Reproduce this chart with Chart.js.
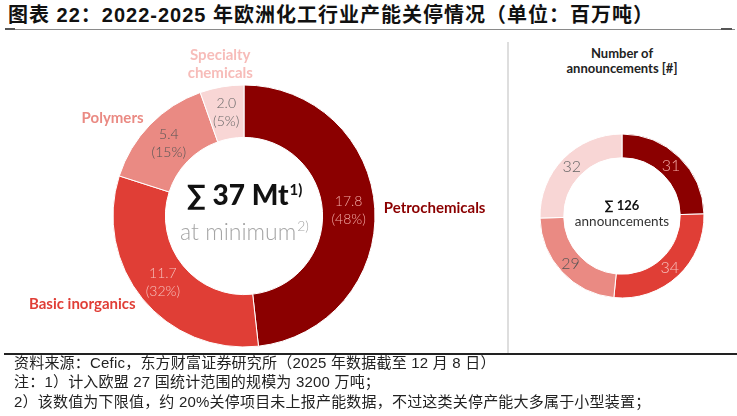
<!DOCTYPE html>
<html lang="zh">
<head>
<meta charset="UTF-8">
<title>2022-2025 年欧洲化工行业产能关停情况</title>
<script src="https://cdn.jsdelivr.net/npm/chart.js"></script>
<style>
  body { margin: 0; background: #fff; }
  .page { position: relative; width: 737px; height: 416px; overflow: hidden; font-family: "Liberation Sans", "Noto Sans CJK SC", sans-serif; color: #111; }
  .title { position: absolute; left: 8px; top: 3px; font-size: 20px; font-weight: bold; white-space: nowrap; line-height: 24px; letter-spacing: 1px; }
  .rule-top { position: absolute; left: 5px; width: 730px; top: 29px; height: 1px; background: #8a8a8a; }
  .rule-top-end { position: absolute; top: 28px; height: 2px; background: #555; }
  .divider { position: absolute; left: 507px; top: 42px; width: 2px; height: 312px; background: #dedede; }
  .rule-bottom { position: absolute; left: 4px; width: 733px; top: 353px; height: 2px; background: #222; }
  .note { position: absolute; left: 14px; font-size: 15px; white-space: nowrap; line-height: 19px; color: #222; letter-spacing: 0.2px; }
  .sub-title { position: absolute; left: 522px; width: 200px; top: 46px; text-align: center; font-family: Lato, sans-serif; font-weight: bold; font-size: 13px; line-height: 15px; color: #222; }
  canvas { position: absolute; }
</style>
</head>
<body>
<div class="page">
  <div class="title">图表 22：2022-2025 年欧洲化工行业产能关停情况（单位：百万吨）</div>
  <div class="rule-top"></div>
  <div class="rule-top-end" style="left:5px;width:10px"></div>
  <div class="rule-top-end" style="left:721px;width:11px"></div>

  <canvas id="capacityChart" width="488" height="352" style="left:0;top:40px"></canvas>
  <div class="divider"></div>
  <div class="sub-title">Number of<br>announcements [#]</div>
  <canvas id="countChart" width="220" height="352" style="left:512px;top:40px"></canvas>

  <div class="rule-bottom"></div>
  <div class="note" style="top:353px">资料来源：Cefic，东方财富证券研究所（2025 年数据截至 12 月 8 日）</div>
  <div class="note" style="top:372px">注：1）计入欧盟 27 国统计范围的规模为 3200 万吨；</div>
  <div class="note" style="top:392px">2）该数值为下限值，约 20%关停项目未上报产能数据，不过这类关停产能大多属于小型装置；</div>
</div>

<script>
// data
const categories = ['Petrochemicals', 'Basic inorganics', 'Polymers', 'Specialty chemicals'];
const categoryLines = [['Petrochemicals'], ['Basic inorganics'], ['Polymers'], ['Specialty', 'chemicals']];
const capacityMt = [17.8, 11.7, 5.4, 2.0];
const capacityShare = [48, 32, 15, 5];
const capacityTotal = 37;
const announcements = [31, 34, 29, 32];
const announcementTotal = 126;

// styles
const sliceColors = ['#8b0000', '#e03e36', '#ea8a83', '#f8d6d5'];
const labelColors = ['#8b0000', '#e03e36', '#ea8a83', '#f7bcb9'];
const valueColors = ['#f2a8a3', '#f6c2be', '#555555', '#666666'];

// draws the value texts, outside labels and centre text of a doughnut
const donutText = {
    id: 'donutText',
    afterDatasetsDraw(chart, args, opts) {
        const ctx = chart.ctx;
        const arcs = chart.getDatasetMeta(0).data;
        ctx.save();
        arcs.forEach((arc, i) => {
            const p = arc.getProps(['x', 'y', 'startAngle', 'endAngle', 'outerRadius'], true);
            const mid = (p.startAngle + p.endAngle) / 2;
            const pos = arc.tooltipPosition(true);

            const lines = opts.valueLines(i);
            ctx.font = opts.valueFont;
            ctx.fillStyle = opts.valueColors[i];
            ctx.textAlign = 'center';
            ctx.textBaseline = 'middle';
            lines.forEach((t, k) => {
                ctx.fillText(t, pos.x, pos.y + (k - (lines.length - 1) / 2) * opts.valueLineHeight);
            });

            if (opts.labels) {
                const r = p.outerRadius + opts.labelGap;
                const ax = p.x + Math.cos(mid) * r;
                const ay = p.y + Math.sin(mid) * r;
                const lab = opts.labels[i];
                const c = Math.cos(mid);
                ctx.font = opts.labelFont;
                ctx.fillStyle = opts.labelColors[i];
                if (Math.abs(c) > 0.5) {
                    ctx.textAlign = c > 0 ? 'left' : 'right';
                    ctx.textBaseline = 'middle';
                    lab.forEach((t, k) => ctx.fillText(t, ax, ay + (k - (lab.length - 1) / 2) * opts.labelLineHeight));
                } else {
                    ctx.textAlign = 'center';
                    ctx.textBaseline = 'alphabetic';
                    lab.forEach((t, k) => ctx.fillText(t, ax, ay - (lab.length - 1 - k) * opts.labelLineHeight));
                }
            }
        });
        if (opts.center) opts.center(ctx, arcs[0].x, arcs[0].y);
        ctx.restore();
    }
};

// text with a small raised part, centred on x
function supText(ctx, x, y, main, sup, mainFont, supFont, color, rise) {
    ctx.font = mainFont;
    const w1 = ctx.measureText(main).width;
    ctx.font = supFont;
    const w2 = ctx.measureText(sup).width;
    const start = x - (w1 + w2) / 2;
    ctx.fillStyle = color;
    ctx.textAlign = 'left';
    ctx.textBaseline = 'alphabetic';
    ctx.font = mainFont;
    ctx.fillText(main, start, y);
    ctx.font = supFont;
    ctx.fillText(sup, start + w1 + 1, y - rise);
}

new Chart(document.getElementById('capacityChart'), {
    type: 'doughnut',
    data: {
        labels: categories,
        datasets: [{
            data: capacityMt,
            backgroundColor: sliceColors,
            borderColor: '#ffffff',
            borderWidth: 1
        }]
    },
    options: {
        responsive: false,
        animation: false,
        radius: 131,
        cutout: '60%',
        events: [],
        plugins: {
            legend: { display: false },
            tooltip: { enabled: false },
            donutText: {
                valueLines: i => [capacityMt[i].toFixed(1), '(' + capacityShare[i] + '%)'],
                valueFont: '300 14px Lato',
                valueLineHeight: 18,
                valueColors: valueColors,
                labels: categoryLines,
                labelFont: 'bold 15px Lato',
                labelLineHeight: 18,
                labelColors: labelColors,
                labelGap: 9,
                center(ctx, x, y) {
                    supText(ctx, x, y - 11, '∑ ' + capacityTotal + ' Mt', '1)', '900 28px Lato', 'bold 15px Lato', '#111111', 10);
                    supText(ctx, x, y + 24, 'at minimum', '2)', '300 23px Lato', '300 14px Lato', '#a5a5a5', 9);
                }
            }
        }
    },
    plugins: [donutText]
});

new Chart(document.getElementById('countChart'), {
    type: 'doughnut',
    data: {
        labels: categories,
        datasets: [{
            data: announcements,
            backgroundColor: sliceColors,
            borderColor: '#ffffff',
            borderWidth: 1
        }]
    },
    options: {
        responsive: false,
        animation: false,
        radius: 82,
        cutout: '71%',
        events: [],
        plugins: {
            legend: { display: false },
            tooltip: { enabled: false },
            donutText: {
                valueLines: i => [String(announcements[i])],
                valueFont: '300 16px Lato',
                valueLineHeight: 18,
                valueColors: ['#f2a8a3', '#f6c2be', '#555555', '#666666'],
                center(ctx, x, y) {
                    ctx.textAlign = 'center';
                    ctx.textBaseline = 'middle';
                    ctx.fillStyle = '#111111';
                    ctx.font = 'bold 13px Lato';
                    ctx.fillText('∑ ' + announcementTotal, x, y - 10);
                    ctx.fillStyle = '#333333';
                    ctx.font = '13.5px Lato';
                    ctx.fillText('announcements', x, y + 6);
                }
            }
        }
    },
    plugins: [donutText]
});
</script>
</body>
</html>
